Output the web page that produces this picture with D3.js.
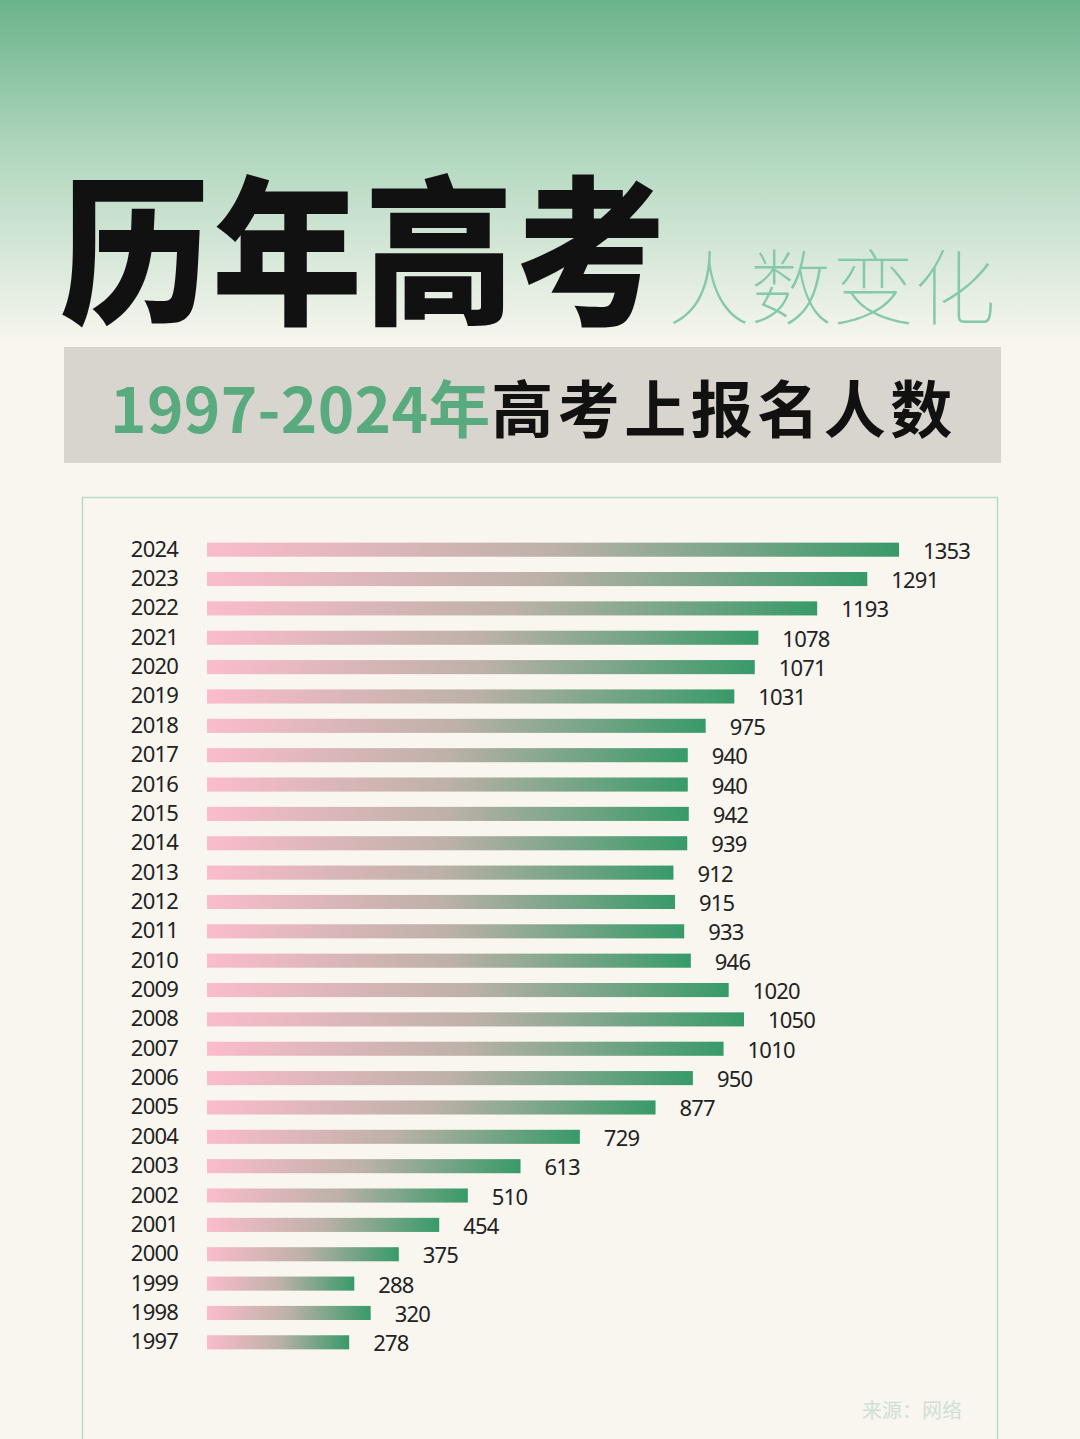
<!DOCTYPE html>
<html><head><meta charset="utf-8">
<script src="https://cdn.jsdelivr.net/npm/d3@7"></script>
<style>html,body{margin:0;padding:0;background:#f8f6ef;}</style>
</head><body>
<svg id="c" width="1080" height="1439"></svg>
<script>
const years = [2024,2023,2022,2021,2020,2019,2018,2017,2016,2015,2014,2013,2012,2011,2010,2009,2008,2007,2006,2005,2004,2003,2002,2001,2000,1999,1998,1997];
const values = [1353,1291,1193,1078,1071,1031,975,940,940,942,939,912,915,933,946,1020,1050,1010,950,877,729,613,510,454,375,288,320,278];
const titleMain = "历年高考";
const titleSub = "人数变化";
const subYears = "1997-2024";
const subNian = "年";
const subText = "高考上报名人数";
const source = "来源：网络";

const svg = d3.select("#c");
const defs = svg.append("defs");
const bg = defs.append("linearGradient").attr("id","bgG").attr("x1",0).attr("y1",0).attr("x2",0).attr("y2",1);
bg.append("stop").attr("offset","0%").attr("stop-color","#6bb38b");
bg.append("stop").attr("offset","45%").attr("stop-color","#b2d8c0");
bg.append("stop").attr("offset","100%").attr("stop-color","#f8f6ef");
const barG = defs.append("linearGradient").attr("id","barG").attr("x1",0).attr("y1",0).attr("x2",1).attr("y2",0);
barG.append("stop").attr("offset","0%").attr("stop-color","#fbbccb");
barG.append("stop").attr("offset","50%").attr("stop-color","#bdb1a8");
barG.append("stop").attr("offset","100%").attr("stop-color","#389a69");

svg.append("rect").attr("width",1080).attr("height",1439).attr("fill","#f8f6ef");
svg.append("rect").attr("width",1080).attr("height",345).attr("fill","url(#bgG)");

const cjk = "'Noto Sans CJK SC', 'Noto Sans', sans-serif";
svg.append("text").attr("transform","translate(60,312) scale(1,1.07)").attr("font-family",cjk).attr("font-weight",900)
  .attr("font-size",150).attr("fill","#111").attr("letter-spacing",2).text(titleMain);
svg.append("text").attr("x",668).attr("y",318).attr("font-family",cjk).attr("font-weight",100)
  .attr("font-size",82).attr("fill","#86c9a8").text(titleSub);

svg.append("rect").attr("x",64).attr("y",347).attr("width",937).attr("height",116).attr("fill","#d8d5cf");
const st = svg.append("text").attr("x",110).attr("y",433).attr("font-family",cjk).attr("font-weight",700)
  .attr("font-size",62);
st.append("tspan").attr("fill","#5aaa80").attr("letter-spacing",0.3).text(subYears);
st.append("tspan").attr("fill","#5aaa80").attr("letter-spacing",1).text(subNian);
st.append("tspan").attr("fill","#111").attr("letter-spacing",4.5).text(subText);

svg.append("rect").attr("x",82.5).attr("y",497.5).attr("width",915).attr("height",960)
  .attr("fill","none").attr("stroke","#b9dcc7").attr("stroke-width",1.5);

const x = d3.scaleLinear().domain([0,1353]).range([207,899]);
const y = d3.scaleBand().domain(years).range([535,1357]).paddingInner(0.52).paddingOuter(0.26);

const g = svg.append("g");
g.selectAll("rect.bar").data(years).join("rect").attr("class","bar")
  .attr("x",x(0)).attr("y",d=>y(d)).attr("height",y.bandwidth())
  .attr("width",(d,i)=>x(values[i])-x(0)).attr("fill","url(#barG)");

const num = "'Noto Sans', 'Open Sans', sans-serif";
g.selectAll("text.yr").data(years).join("text").attr("class","yr")
  .attr("x",178).attr("y",d=>y(d)+y.bandwidth()/2+7).attr("text-anchor","end")
  .attr("font-family",num).attr("font-size",22).attr("fill","#222").attr("letter-spacing",-0.8).text(d=>d);
g.selectAll("text.val").data(years).join("text").attr("class","val")
  .attr("x",(d,i)=>x(values[i])+24).attr("y",d=>y(d)+y.bandwidth()/2+9)
  .attr("font-family",num).attr("font-size",22).attr("fill","#222").attr("letter-spacing",-0.8).text((d,i)=>values[i]);

svg.append("text").attr("x",962).attr("y",1418).attr("text-anchor","end").attr("font-family",cjk)
  .attr("font-size",20).attr("fill","#cfe0d3").text(source);
</script>
</body></html>
